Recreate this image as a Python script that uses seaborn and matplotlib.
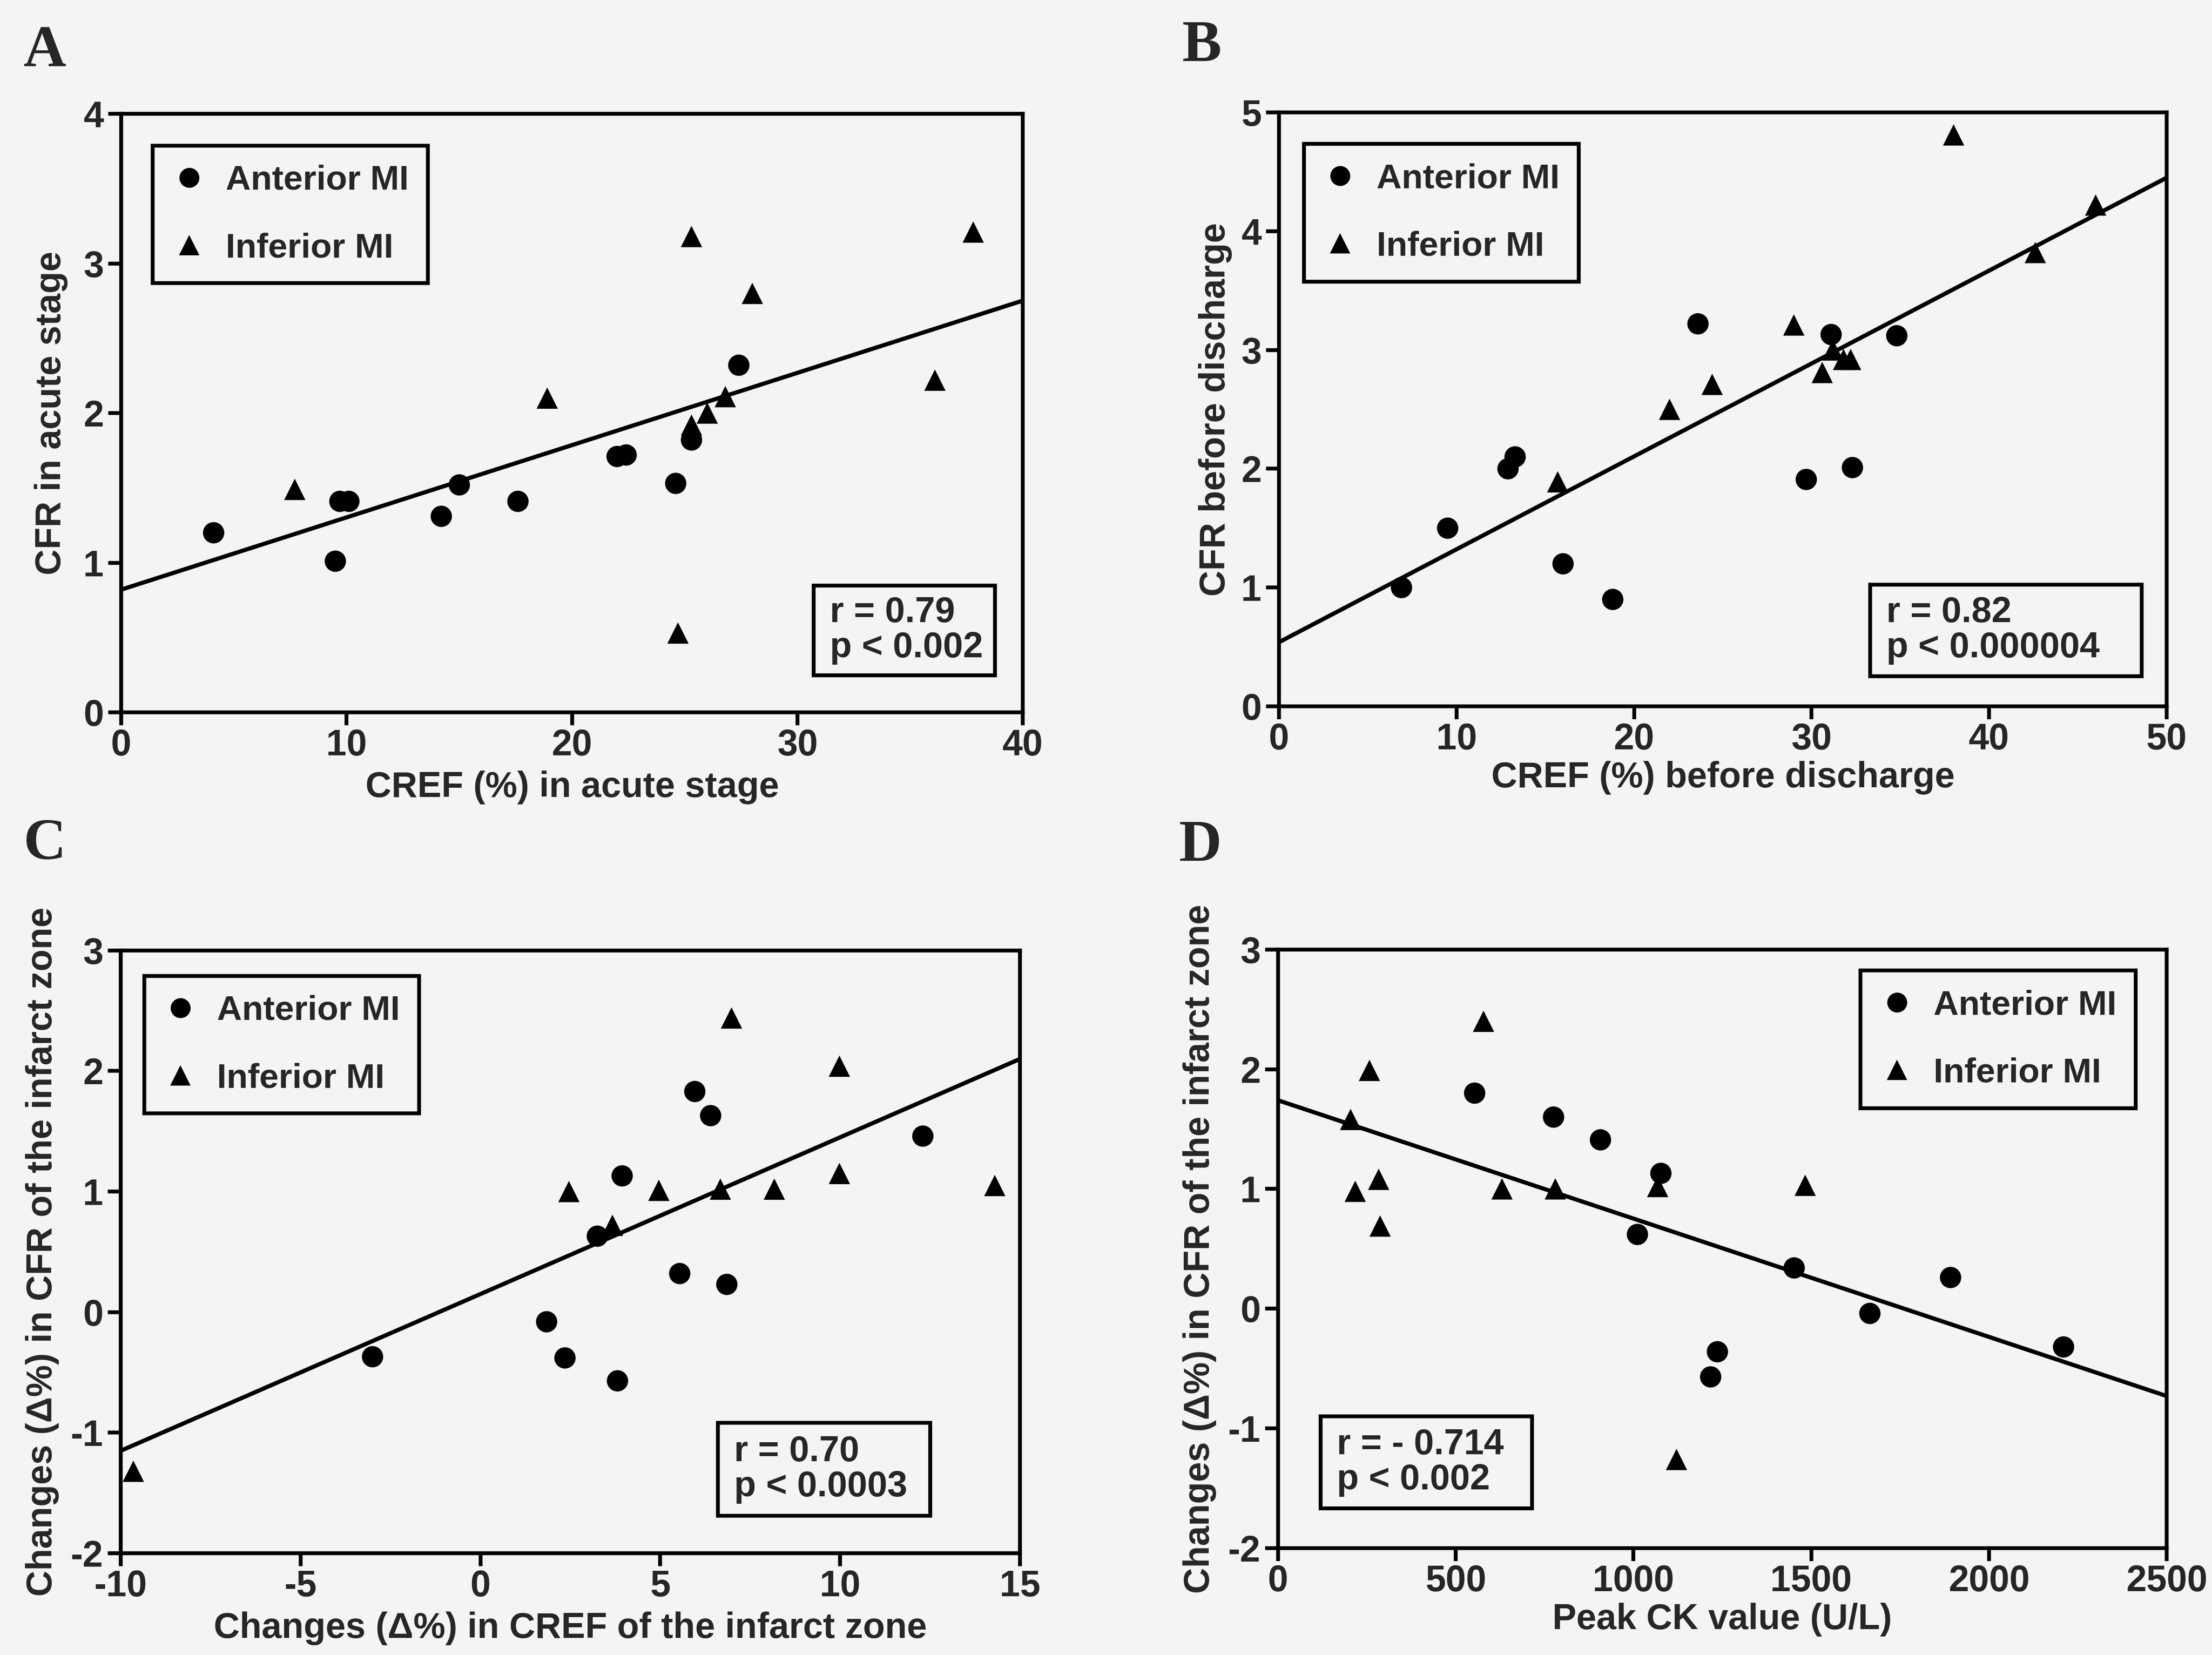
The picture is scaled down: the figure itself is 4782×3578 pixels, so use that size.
import numpy as np
import pandas as pd
import matplotlib
matplotlib.use("Agg")
import matplotlib.pyplot as plt
import seaborn as sns
from matplotlib.lines import Line2D
from matplotlib.patches import Rectangle

# ---------------- data ----------------
# Panel A: CREF (%) in acute stage vs CFR in acute stage
a_ant_x = [4.1, 9.5, 9.7, 10.1, 14.2, 15.0, 17.6, 22.0, 22.4, 24.6, 25.3, 27.4]
a_ant_y = [1.20, 1.01, 1.41, 1.41, 1.31, 1.52, 1.41, 1.71, 1.72, 1.53, 1.82, 2.32]
a_inf_x = [7.7, 18.9, 24.7, 25.3, 25.3, 26.0, 26.8, 28.0, 36.1, 37.8]
a_inf_y = [1.49, 2.10, 0.53, 1.92, 3.18, 2.00, 2.11, 2.80, 2.22, 3.21]
a_fit = [0.82, 0.0483]          # intercept, slope of drawn regression line
a_stats = ["r = 0.79", "p < 0.002"]

# Panel B: CREF (%) before discharge vs CFR before discharge
b_ant_x = [6.9, 9.5, 12.9, 13.3, 16.0, 18.8, 23.6, 29.7, 31.1, 32.3, 34.8]
b_ant_y = [1.00, 1.50, 2.00, 2.10, 1.20, 0.90, 3.22, 1.91, 3.13, 2.01, 3.12]
b_inf_x = [15.7, 22.0, 24.4, 29.0, 30.6, 31.2, 31.8, 32.2, 38.0, 42.6, 46.0]
b_inf_y = [1.89, 2.50, 2.71, 3.21, 2.81, 3.00, 2.92, 2.92, 4.81, 3.82, 4.22]
b_fit = [0.54, 0.0782]
b_stats = ["r = 0.82", "p < 0.000004"]

# Panel C: changes in CREF vs changes in CFR of the infarct zone
c_ant_x = [-3.0, 1.84, 2.35, 3.25, 3.81, 3.94, 5.54, 5.96, 6.40, 6.85, 12.3]
c_ant_y = [-0.37, -0.08, -0.38, 0.63, -0.57, 1.13, 0.32, 1.83, 1.63, 0.23, 1.46]
c_inf_x = [-9.65, 2.46, 3.67, 4.96, 6.67, 6.98, 8.17, 9.98, 9.98, 14.3]
c_inf_y = [-1.32, 1.00, 0.72, 1.01, 1.02, 2.44, 1.02, 2.04, 1.15, 1.05]
c_fit = [0.15, 0.13]
c_stats = ["r = 0.70", "p < 0.0003"]

# Panel D: peak CK value vs changes in CFR of the infarct zone
d_ant_x = [553, 775, 907, 1011, 1077, 1217, 1236, 1452, 1665, 1892, 2210]
d_ant_y = [1.80, 1.60, 1.41, 0.62, 1.13, -0.57, -0.36, 0.34, -0.04, 0.26, -0.32]
d_inf_x = [204, 217, 257, 283, 287, 578, 630, 780, 1068, 1121, 1483]
d_inf_y = [1.58, 0.98, 1.99, 1.08, 0.69, 2.40, 1.00, 1.00, 1.02, -1.26, 1.03]
d_fit = [1.74, -0.000988]
d_stats = ["r = - 0.714", "p < 0.002"]

groups = ["Anterior MI", "Inferior MI"]

# ---------------- style ----------------
PAPER = "#f4f4f4"
sns.set_style("ticks")
plt.rcParams["font.family"] = ["Liberation Sans", "DejaVu Sans"]
plt.rcParams["font.weight"] = "bold"
plt.rcParams["axes.labelweight"] = "bold"
plt.rcParams["axes.unicode_minus"] = False

TICK_FS = 57
LABEL_FS = 56
LEG_FS = 54
STAT_FS = 56
LW = 6

fig = plt.figure(figsize=(47.82, 35.78), dpi=100)
fig.patch.set_facecolor(PAPER)


def draw_panel(rect, ant_x, ant_y, inf_x, inf_y, fit, xlim, xticks, ylim, yticks,
               xlabel, ylabel, xpad, ypad, leg_loc, leg_anchor, box, stats):
    ax = fig.add_axes(rect)
    ax.set_facecolor(PAPER)
    df = pd.DataFrame({
        "x": list(ant_x) + list(inf_x),
        "y": list(ant_y) + list(inf_y),
        "group": [groups[0]] * len(ant_x) + [groups[1]] * len(inf_x),
    })
    sns.scatterplot(data=df, x="x", y="y", style="group",
                    markers={groups[0]: "o", groups[1]: "^"},
                    color="black", edgecolor="black", linewidth=0,
                    s=1100, legend=False, ax=ax, zorder=3)
    xs = np.array(xlim, dtype=float)
    sns.lineplot(x=xs, y=fit[0] + fit[1] * xs, color="black", lw=6.5,
                 ax=ax, zorder=2)
    ax.set_xlim(*xlim)
    ax.set_ylim(*ylim)
    ax.set_xticks(xticks)
    ax.set_yticks(yticks)
    ax.tick_params(axis="both", direction="out", length=20, width=LW,
                   labelsize=TICK_FS, color="black")
    ax.tick_params(axis="x", pad=5)
    ax.tick_params(axis="y", pad=7)
    for lab in ax.get_xticklabels() + ax.get_yticklabels():
        lab.set_fontweight("bold")
    for sp in ax.spines.values():
        sp.set_visible(True)
        sp.set_linewidth(LW)
        sp.set_color("black")
    ax.set_xlabel(xlabel, fontsize=LABEL_FS, fontweight="bold", labelpad=xpad)
    ax.set_ylabel(ylabel, fontsize=LABEL_FS, fontweight="bold", labelpad=ypad)

    handles = [
        Line2D([], [], marker="o", ls="none", color="black", markersize=31,
               markeredgewidth=0, label=groups[0]),
        Line2D([], [], marker="^", ls="none", color="black", markersize=31,
               markeredgewidth=0, label=groups[1]),
    ]
    leg = ax.legend(handles=handles, loc=leg_loc, bbox_to_anchor=leg_anchor,
                    fontsize=LEG_FS, frameon=True, fancybox=False,
                    edgecolor="black", facecolor=PAPER, framealpha=1,
                    borderpad=0.55, labelspacing=1.03, handlelength=1.0,
                    handletextpad=0.55, borderaxespad=0)
    leg.get_frame().set_linewidth(LW)
    for t in leg.get_texts():
        t.set_fontweight("bold")

    x0, y0, x1, y1 = box
    ax.add_patch(Rectangle((x0, y0), x1 - x0, y1 - y0, transform=ax.transAxes,
                           facecolor=PAPER, edgecolor="black", lw=LW, zorder=4))
    ax.text(x0 + 0.018, (y0 + y1) / 2, "\n".join(stats), transform=ax.transAxes,
            ha="left", va="center", fontsize=STAT_FS, fontweight="bold",
            linespacing=1.05, zorder=5)
    return ax


draw_panel([0.0548, 0.5696, 0.4076, 0.3616], a_ant_x, a_ant_y, a_inf_x, a_inf_y,
           a_fit, (0, 40), [0, 10, 20, 30, 40], (0, 4), [0, 1, 2, 3, 4],
           "CREF (%) in acute stage", "CFR in acute stage", 12, 24,
           "upper left", (0.035, 0.947), (0.768, 0.062, 0.969, 0.212), a_stats)

draw_panel([0.5782, 0.5732, 0.4013, 0.3589], b_ant_x, b_ant_y, b_inf_x, b_inf_y,
           b_fit, (0, 50), [0, 10, 20, 30, 40, 50], (0, 5), [0, 1, 2, 3, 4, 5],
           "CREF (%) before discharge", "CFR before discharge", 6, 14,
           "upper left", (0.028, 0.947), (0.666, 0.051, 0.972, 0.205), b_stats)

draw_panel([0.0546, 0.0615, 0.4065, 0.3642], c_ant_x, c_ant_y, c_inf_x, c_inf_y,
           c_fit, (-10, 15), [-10, -5, 0, 5, 10, 15], (-2, 3), [-2, -1, 0, 1, 2, 3],
           "Changes (\u0394%) in CREF of the infarct zone",
           "Changes (\u0394%) in CFR of the infarct zone", 12, 18,
           "upper left", (0.026, 0.958), (0.664, 0.062, 0.900, 0.216), c_stats)

draw_panel([0.5778, 0.0646, 0.4017, 0.3617], d_ant_x, d_ant_y, d_inf_x, d_inf_y,
           d_fit, (0, 2500), [0, 500, 1000, 1500, 2000, 2500], (-2, 3),
           [-2, -1, 0, 1, 2, 3],
           "Peak CK value (U/L)", "Changes (\u0394%) in CFR of the infarct zone", 6, 18,
           "upper right", (0.965, 0.965), (0.048, 0.066, 0.286, 0.220), d_stats)

letter_kw = dict(fontsize=92, fontweight="bold", va="baseline", ha="left",
                 family=["Liberation Serif", "DejaVu Serif"])
fig.text(0.0107, 0.960, "A", **letter_kw)
fig.text(0.5345, 0.963, "B", **letter_kw)
fig.text(0.0107, 0.481, "C", **letter_kw)
fig.text(0.5330, 0.480, "D", **letter_kw)

fig.savefig("out.png", dpi=100, facecolor=PAPER)
